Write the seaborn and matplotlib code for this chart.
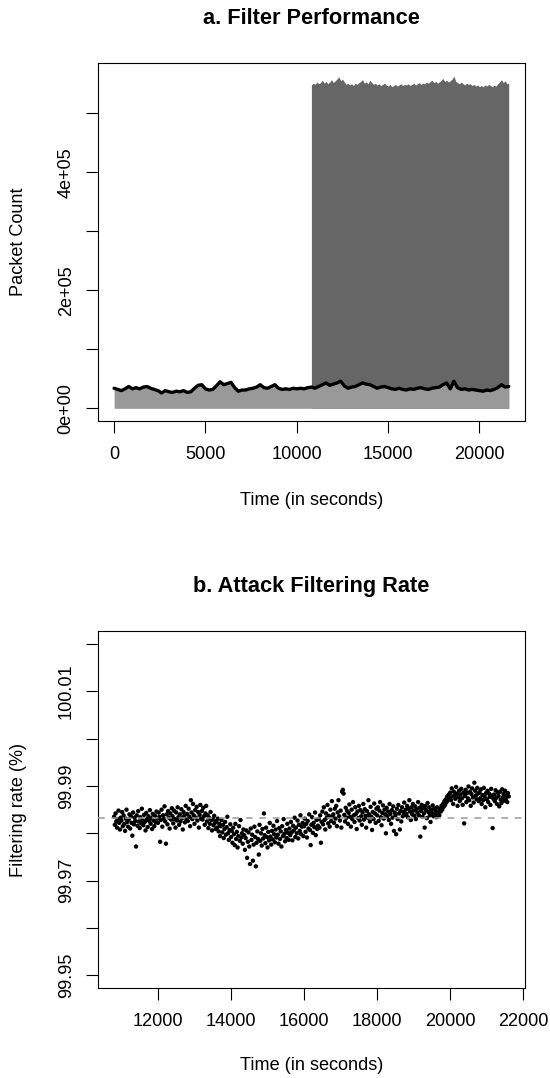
import numpy as np
import pandas as pd
import matplotlib
matplotlib.use("Agg")
import matplotlib.pyplot as plt
import seaborn as sns

sns.set_theme(style="white")
plt.rcParams['font.family'] = ['Liberation Sans', 'DejaVu Sans']
plt.rcParams['text.color'] = 'black'
plt.rcParams['axes.labelcolor'] = 'black'
plt.rcParams['xtick.color'] = 'black'
plt.rcParams['ytick.color'] = 'black'

# ---------------- data ----------------
# legitimate (filtered-through) packet count, thousands, sampled 0..21600 s
legit_k = [34, 32, 30, 33, 37, 33, 35, 33, 36, 37, 34, 32, 30, 26, 30, 28, 27, 29, 28, 30,
           27, 28, 34, 39, 40, 33, 31, 32, 38, 45, 40, 42, 44, 35, 29, 31, 31, 33, 34, 36,
           40, 35, 34, 37, 40, 34, 32, 33, 32, 34, 33, 34, 33, 35, 36, 34, 37, 40, 43, 39,
           41, 43, 46, 38, 34, 36, 37, 40, 43, 41, 40, 37, 34, 36, 37, 35, 33, 32, 34, 32,
           31, 33, 32, 34, 35, 33, 32, 34, 35, 36, 40, 43, 33, 46, 35, 32, 33, 31, 32, 31,
           30, 29, 31, 30, 32, 35, 40, 36, 37]
legit_start, legit_end = 0, 21600

# total incoming packets during the attack, thousands, sampled 10800..21600 s
attack_k = [548, 551, 549, 553, 550, 552, 556, 551, 554, 550, 553, 557, 552, 555, 558, 562,
            555, 558, 553, 549, 551, 548, 550, 547, 551, 549, 552, 554, 557, 551, 553, 550,
            556, 552, 549, 551, 548, 550, 547, 549, 551, 548, 546, 549, 545, 547, 549, 546,
            548, 550, 547, 549, 548, 550, 547, 549, 551, 548, 550, 552, 549, 551, 550, 553,
            551, 554, 556, 552, 554, 551, 553, 556, 559, 554, 556, 553, 555, 558, 563, 554,
            552, 550, 553, 550, 548, 551, 549, 550, 547, 549, 546, 548, 545, 547, 545, 548,
            546, 549, 547, 545, 548, 546, 550, 553, 557, 552, 555, 550, 551]
attack_start, attack_end = 10800, 21600

# filtering rate, in units of 0.0001 percentage points above 99.98 %
rate_base = 99.98
rate_dev = [
    35, 18, 42, 25, 12, 30, 48, 22, 8, 33, 27, 45, 15, 38, 20, 5, 31, 50, 24, 14,
    29, 40, 10, 36, 22, -5, 44, 19, 33, 26, -28, 38, 16, 47, 25, 11, 34, 21, 52, 28,
    17, 39, 24, 6, 43, 30, 13, 36, 26, 49, 20, 32, 9, 41, 27, 15, 37, 23, 46, 31,
    22, 44, 35, -18, 28, 50, 14, 38, 31, 57, 25, -22, 40, 19, 47, 33, 10, 42, 29, 53,
    36, 21, 48, 30, 12, 44, 27, 55, 34, 18, 40, 25, 51, 32, 8, 45, 37, 23, 58, 29,
    41, 26, 52, 35, 15, 70, 44, 30, 62, 38, 20, 49, 33, 56, 27, 45, 12, 39, 60, 31,
    47, 29, 54, 36, 18, 42, 58, 25, 38, 11, 33, 20, 45, 28, 6, 30, 17, 37, 22, 9,
    26, 12, 31, 4, 20, -6, 15, 28, 2, 18, -10, 9, 24, -3, 13, 35, 0, -14, 7, 19,
    -8, 5, -20, 12, -2, -25, 20, -12, 3, -30, -6, 15, -16, 28, -9, 0, -22, 8, -4, -35,
    -10, 6, -52, -18, 2, -28, -65, 10, -14, -3, -58, -24, 14, -8, -70, -20, 4, -12, -45, 18,
    -16, 0, -26, 9, -11, 42, -4, -21, 12, -8, -30, 3, -15, 22, -7, -24, 5, -13, 16, -2,
    -19, 8, -9, 26, -3, -22, 11, -12, 4, -28, 15, -6, 30, -1, -17, 7, -10, 20, 1, -14,
    10, -4, 24, 2, -15, 16, 6, 33, -8, 12, 0, 27, -11, 18, 5, 38, -2, 14, 22, -6,
    15, 31, 3, 20, -9, 26, 10, 40, 7, -25, 18, 34, 1, 22, 13, 44, -4, 28, 9, 16,
    30, 12, 38, -20, 24, 46, 19, 55, 28, 8, 42, 33, 60, 21, 37, 14, 50, 26, 68, 35,
    40, 22, 52, 31, 58, 15, 44, 70, 36, 27, 48, 12, 88, 92, 84, 39, 25, 54, 33, 47,
    20, 43, 61, 35, 14, 50, 30, 66, 38, 24, 55, 41, 9, 46, 32, 58, 27, 49, 36, 18,
    44, 62, 29, 51, 37, 12, 47, 33, 70, 40, 25, 56, 35, 7, 45, 30, 63, 42, 22, 52,
    38, 55, 26, 48, 66, 34, 17, 43, 59, 31, 50, 40, 0, 54, 36, 46, 28, 62, 41, 20,
    49, 33, 57, 5, 44, 38, -2, 52, 30, 60, 42, 8, 47, 25, 55, 36, 45, 65, 39, 50,
    41, 58, 34, 52, 70, 46, 28, 55, 40, 62, 48, 37, 57, 30, 51, 44, 66, 38, 54, -7,
    47, 60, 35, 53, 42, 12, 58, 49, 32, 64, 45, 55, 38, 24, 50, 43, 59, 36, 52, 40,
    48, 34, 55, 42, 45, 38, 52, 46, 58, 50, 62, 56, 68, 60, 72, 66, 78, 70, 82, 75,
    86, 70, 95, 78, 62, 88, 80, 73, 98, 84, 58, 76, 90, 68, 82, 94, 74, 60, 86, 21,
    79, 92, 66, 85, 74, 99, 70, 88, 58, 83, 95, 76, 65, 107, 90, 80, 72, 96, 84, 68,
    87, 74, 93, 62, 81, 70, 96, 78, 55, 85, 72, 90, 66, 84, 77, 60, 94, 80, 11, 73,
    82, 68, 91, 75, 62, 86, 79, 57, 88, 71, 64, 93, 76, 83, 69, 90, 72, 80, 66, 85, 78]
rate_start, rate_end = 10800, 21600
rate_mean = 99.9832

top_xticks = [0, 5000, 10000, 15000, 20000]
top_yticks = [0, 100000, 200000, 300000, 400000, 500000]
top_ylabels = ["0e+00", "", "2e+05", "", "4e+05", ""]
bot_xticks = [12000, 14000, 16000, 18000, 20000, 22000]
bot_yticks = [99.95, 99.96, 99.97, 99.98, 99.99, 100.00, 100.01, 100.02]
bot_ylabels = ["99.95", "", "99.97", "", "99.99", "", "100.01", ""]

df_legit = pd.DataFrame({"time": np.linspace(legit_start, legit_end, len(legit_k)),
                         "packets": np.array(legit_k) * 1000.0})
df_attack = pd.DataFrame({"time": np.linspace(attack_start, attack_end, len(attack_k)),
                          "packets": np.array(attack_k) * 1000.0})
df_rate = pd.DataFrame({"time": np.linspace(rate_start, rate_end, len(rate_dev)),
                        "rate": rate_base + np.array(rate_dev) * 1e-4})

# ---------------- figure ----------------
W, H = 550, 1078
fig = plt.figure(figsize=(W / 100, H / 100), dpi=100)

def px_axes(l, t, r, b):
    return fig.add_axes([l / W, 1 - b / H, (r - l) / W, (b - t) / H])

ax1 = px_axes(98.3, 63.3, 524.5, 421)
ax2 = px_axes(98.3, 631, 524.5, 988.3)

FS = 13.1

# top panel
ax1.fill_between(df_attack["time"], 0, df_attack["packets"], color="#666666", lw=0, zorder=1)
ax1.fill_between(df_legit["time"], 0, df_legit["packets"], color="#999999", lw=0, zorder=2)
sns.lineplot(data=df_legit, x="time", y="packets", ax=ax1, color="black", lw=2.4, zorder=3)
ax1.set_xlim(-864, 22464)
ax1.set_ylim(-21500, 584700)
ax1.set_xticks(top_xticks)
ax1.set_xticklabels([str(v) for v in top_xticks])
ax1.set_yticks(top_yticks)
ax1.set_yticklabels(top_ylabels)

# bottom panel
sns.scatterplot(data=df_rate, x="time", y="rate", ax=ax2, color="black", s=10,
                linewidth=0, edgecolor="none", zorder=2)
ax2.axhline(rate_mean, color="#9a9a9a", lw=1.1, ls=(0, (4.4, 4.4)), zorder=3)
ax2.set_xlim(10368, 22032)
ax2.set_ylim(99.9472, 100.0228)
ax2.set_xticks(bot_xticks)
ax2.set_xticklabels([str(v) for v in bot_xticks])
ax2.set_yticks(bot_yticks)
ax2.set_yticklabels(bot_ylabels)

for ax in (ax1, ax2):
    ax.set_xlabel("")
    ax.set_ylabel("")
    for sp in ax.spines.values():
        sp.set_visible(True)
        sp.set_color("black")
        sp.set_linewidth(0.8)
    ax.tick_params(axis="both", direction="out", length=8.5, width=0.8, color="black",
                   labelsize=FS, labelcolor="black")
    ax.tick_params(axis="x", pad=9.5)
    ax.tick_params(axis="y", pad=8.5)
    ax.tick_params(bottom=True, left=True, top=False, right=False)
    for lab in ax.get_yticklabels():
        lab.set_rotation(90)
        lab.set_va("center")
    ax.grid(False)
    ax.set_facecolor("white")

cx = (98.3 + 524.5) / 2 / W
fig.text(cx, 1 - 19 / H, "a. Filter Performance", ha="center", va="center",
         fontsize=15.7, fontweight="bold", color="black")
fig.text(cx, 1 - 586.5 / H, "b. Attack Filtering Rate", ha="center", va="center",
         fontsize=15.7, fontweight="bold", color="black")
fig.text(cx, 1 - 501 / H, "Time (in seconds)", ha="center", va="center", fontsize=FS,
         color="black")
fig.text(cx, 1 - 1065 / H, "Time (in seconds)", ha="center", va="center", fontsize=FS,
         color="black")
fig.text(19 / W, 1 - 242 / H, "Packet Count", ha="center", va="center", rotation=90,
         fontsize=FS, color="black")
fig.text(19 / W, 1 - 809.7 / H, "Filtering rate (%)", ha="center", va="center", rotation=90,
         fontsize=FS, color="black")

fig.savefig("out.png", dpi=100, facecolor="white")
